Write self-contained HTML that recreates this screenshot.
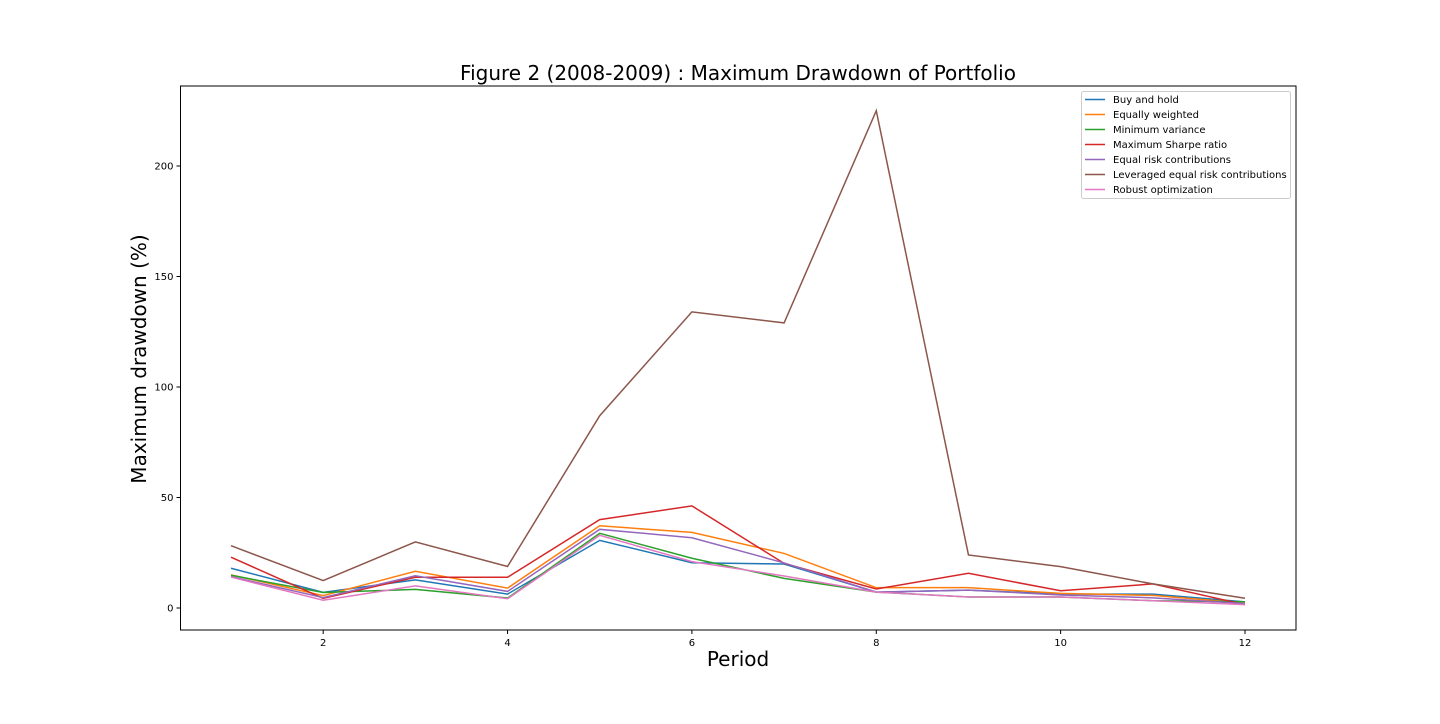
<!DOCTYPE html>
<html><head><meta charset="utf-8"><style>
body{margin:0;background:#fff;width:1440px;height:720px;overflow:hidden;font-family:"DejaVu Sans","Liberation Sans",sans-serif}
</style></head><body>
<svg id="chart" width="1440" height="720" xmlns="http://www.w3.org/2000/svg" font-family="DejaVu Sans, Liberation Sans, sans-serif"></svg>
<script>
const periods=[1,2,3,4,5,6,7,8,9,10,11,12];
const seriesNames=["Buy and hold","Equally weighted","Minimum variance","Maximum Sharpe ratio","Equal risk contributions","Leveraged equal risk contributions","Robust optimization"];
const colors=["#1f77b4","#ff7f0e","#2ca02c","#d62728","#9467bd","#8c564b","#e377c2"];
const buyHold=[18,7.1,12.7,6.3,30.6,20.5,19.9,7.2,8.1,6.3,6.3,2.8];
const equalW=[15,5.6,16.6,9,37.2,34.2,24.7,9.2,9.2,6.6,5.7,2.2];
const minVar=[14.8,7,8.4,4.5,33.8,22.5,13.4,7.2,5,5,3.3,2.8];
const maxSharpe=[23,4.4,13.9,13.9,40,46.2,20.2,8.6,15.7,7.8,10.9,1.5];
const erc=[14.2,4.7,14.6,7.5,35.6,31.8,20.4,7.2,8.1,5.9,4.6,2];
const levErc=[28.2,12.4,29.9,18.8,87,134,129,225,24,18.7,10.9,4.4];
const robust=[14,3.5,10,4.2,32.9,21,14.5,7.2,5,5,3.3,1.5];
const allSeries=[buyHold,equalW,minVar,maxSharpe,erc,levErc,robust];
const xTicks=[2,4,6,8,10,12];
const yTicks=[0,50,100,150,200];
const seriesKeys=["buy-and-hold","equally-weighted","minimum-variance","maximum-sharpe","equal-risk","leveraged-erc","robust-optimization"];

const L=180.5,R=1296,T=86,B=630;
const xs=v=>231+(v-1)*(1245-231)/11;
const ys=v=>608-v*(608-166)/200;
const svg=document.getElementById('chart');
const NS="http://www.w3.org/2000/svg";
function mk(tag,attrs,parent){const e=document.createElementNS(NS,tag);for(const k in attrs)e.setAttribute(k,attrs[k]);(parent||svg).appendChild(e);return e;}

const title=mk('text',{x:738,y:80,'text-anchor':'middle','font-size':20,fill:'#000'});
title.textContent="Figure 2 (2008-2009) : Maximum Drawdown of Portfolio";



allSeries.forEach((s,i)=>{
  const p=mk('polyline',{points:s.map((v,j)=>xs(periods[j])+','+ys(v)).join(' '),fill:'none',stroke:colors[i],'stroke-width':1.5});
  
  
});

const frame=mk('rect',{x:L,y:T,width:R-L,height:B-T,fill:'none',stroke:'#000','stroke-width':1});



xTicks.forEach(t=>{
  const x=xs(t);
  mk('line',{x1:x,x2:x,y1:B,y2:B+4,stroke:'#000'});
  const tx=mk('text',{x:x,y:B+16,'text-anchor':'middle','font-size':10,fill:'#000'});
  tx.textContent=t;
  
  
});
yTicks.forEach(t=>{
  const y=ys(t);
  mk('line',{x1:L-4,x2:L,y1:y,y2:y,stroke:'#000'});
  const tx=mk('text',{x:L-7,y:y+3.5,'text-anchor':'end','font-size':10,fill:'#000'});
  tx.textContent=t;
  
  
});

const xl=mk('text',{x:738,y:666,'text-anchor':'middle','font-size':20,fill:'#000'});
xl.textContent="Period";


const yl=mk('text',{x:146,y:359,'text-anchor':'middle','font-size':20,fill:'#000',transform:'rotate(-90 146 359)'});
yl.textContent="Maximum drawdown (%)";



const lg=mk('g',{});


mk('rect',{x:1081.5,y:91.5,width:209,height:107,rx:2,fill:'#fff',stroke:'#ccc'},lg);
seriesNames.forEach((n,i)=>{
  const y=99.5+i*15;
  const e=mk('g',{},lg);
  
  
  mk('line',{x1:1085,x2:1105,y1:y,y2:y,stroke:colors[i],'stroke-width':1.5},e);
  const t=mk('text',{x:1113,y:y+3.5,'font-size':10,fill:'#000'},e);
  t.textContent=n;
});
</script>
</body></html>
